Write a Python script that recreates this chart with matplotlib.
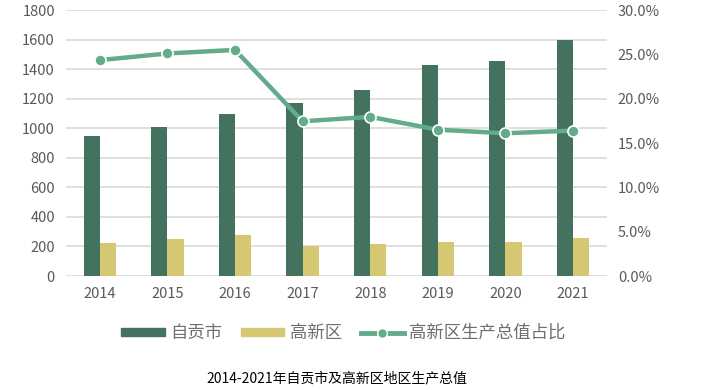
import numpy as np
import matplotlib
matplotlib.use('Agg')
import matplotlib.pyplot as plt
from matplotlib.patches import Patch
from matplotlib.lines import Line2D
from matplotlib.ticker import FuncFormatter

plt.rcParams['font.family'] = ['Noto Sans CJK SC', 'DejaVu Sans']

years = ['2014', '2015', '2016', '2017', '2018', '2019', '2020', '2021']
zigong = [949, 1010, 1095, 1168, 1256, 1425, 1457, 1597]
gaoxin = [226, 253, 275, 201, 219, 233, 233, 258]
ratio = [24.35, 25.1, 25.5, 17.45, 17.95, 16.5, 16.1, 16.4]

c_dark = '#43735F'
c_yel = '#D6C872'
c_line = '#62AC8B'
c_txt = '#595959'

fig = plt.figure(figsize=(7.23, 3.9), dpi=100)
ax = fig.add_axes([0.0913, 0.2923, 0.748, 0.682])
ax2 = ax.twinx()

x = np.arange(len(years))
w = 0.24
ax.bar(x - w / 2, zigong, w, color=c_dark, zorder=2)
ax.bar(x + w / 2, gaoxin, w, color=c_yel, zorder=2)

ax.set_xlim(-0.5, 7.5)
ax.set_ylim(0, 1800)
ax.set_yticks(range(0, 1801, 200))
ax.grid(axis='y', color='#D9D9D9', linewidth=1.2, zorder=0)
ax.set_axisbelow(True)
ax.set_xticks(x)
ax.set_xticklabels(years)

ax2.plot(x, ratio, color=c_line, linewidth=3.2, marker='o', markersize=8,
         markerfacecolor=c_line, markeredgecolor='white', markeredgewidth=1.2, zorder=3)
ax2.set_ylim(0, 30)
ax2.set_yticks(np.arange(0, 30.1, 5))
ax2.yaxis.set_major_formatter(FuncFormatter(lambda v, p: f'{v:.1f}%'))

for a in (ax, ax2):
    for s in a.spines.values():
        s.set_visible(False)
    a.tick_params(length=0, labelsize=10.5, labelcolor=c_txt)
ax.tick_params(axis='x', pad=8)
ax.tick_params(axis='y', pad=8)
ax2.tick_params(axis='y', pad=8)

handles = [Patch(color=c_dark), Patch(color=c_yel),
           Line2D([0], [0], color=c_line, linewidth=3.5, marker='o', markersize=7,
                  markerfacecolor=c_line, markeredgecolor='white')]
labels = ['自贡市', '高新区', '高新区生产总值占比']
leg = fig.legend(handles, labels, loc='center', bbox_to_anchor=(0.475, 0.146), ncol=3,
                 frameon=False, fontsize=12.5, handlelength=2.5, handleheight=0.3,
                 columnspacing=1.1, handletextpad=0.3)
for t in leg.get_texts():
    t.set_color('#6E6E6E')

fig.text(0.466, 0.031, '2014-2021年自贡市及高新区地区生产总值', ha='center', va='center',
         fontsize=10, color='#000000')

fig.savefig('out.png', dpi=100)
